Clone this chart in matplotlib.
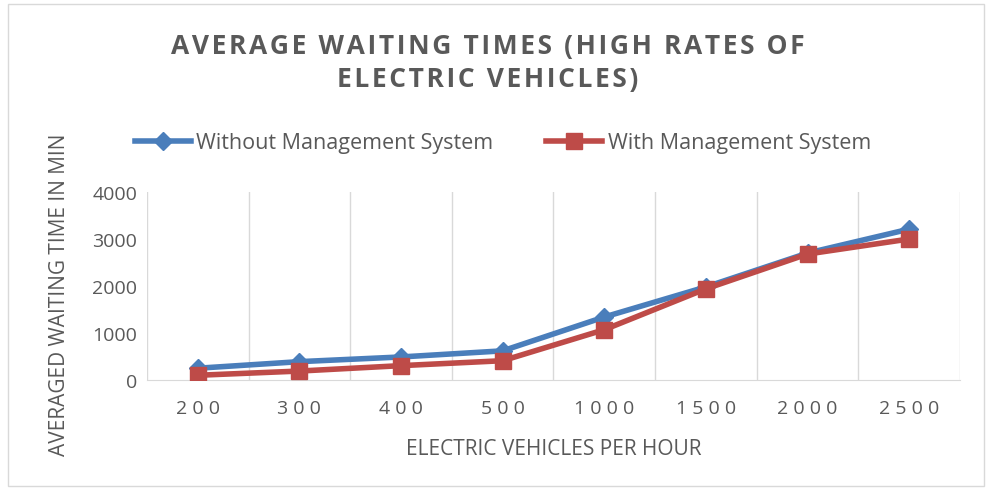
"""
Average waiting times for high rates of electric vehicles.
"""

import matplotlib.pyplot as plt
import numpy as np
from matplotlib.patches import Rectangle

plt.rcParams["font.family"] = ["Open Sans", "DejaVu Sans"]

# %% Data
ev_per_hour = ["200", "300", "400", "500", "1000", "1500", "2000", "2500"]
without_mgmt = [250, 390, 490, 620, 1340, 1980, 2700, 3210]
with_mgmt = [100, 190, 305, 410, 1070, 1940, 2680, 3000]

blue = "#4a7ebb"
red = "#be4b48"
txt = "#595959"


def spaced(s, gap="\u200a"):
    # crude letter spacing for the title
    return gap.join(s)


# %% Plot
fig = plt.figure(figsize=(9.86, 4.89), dpi=100)
ax = fig.add_axes([0.149, 0.2209, 0.8246, 0.3844])

x = np.arange(len(ev_per_hour))
ax.plot(x, without_mgmt, color=blue, lw=4, marker="D", markersize=9,
        label="Without Management System", zorder=3)
ax.plot(x, with_mgmt, color=red, lw=4, marker="s", markersize=11,
        label="With Management System", zorder=4)

ax.set_xlim(-0.5, len(ev_per_hour) - 0.5)
ax.set_ylim(0, 4000)
ax.set_yticks([0, 1000, 2000, 3000, 4000])
ax.set_xticks(x)
ax.set_xticklabels([" ".join(s) for s in ev_per_hour])
ax.set_xticks(np.arange(-0.5, len(ev_per_hour)), minor=True)
ax.grid(which="minor", axis="x", color="#d9d9d9", lw=1)
ax.tick_params(which="both", length=0, colors=txt, labelsize=14)
ax.tick_params(axis="x", pad=14)
ax.tick_params(axis="y", pad=7)
for side in ["top", "left", "right"]:
    ax.spines[side].set_visible(False)
ax.spines["bottom"].set_color("#d9d9d9")

ax.set_xlabel("ELECTRIC VEHICLES PER HOUR", fontsize=15, color=txt,
              labelpad=15)
ax.set_ylabel("AVERAGED WAITING TIME IN MIN", fontsize=15, color=txt)
ax.yaxis.set_label_coords(-0.095, 0.457)

fig.text(0.495, 0.905, spaced("AVERAGE WAITING TIMES (HIGH RATES OF"),
         ha="center", va="center", fontsize=19, fontweight="bold", color=txt)
fig.text(0.495, 0.838, spaced("ELECTRIC VEHICLES)"),
         ha="center", va="center", fontsize=19, fontweight="bold", color=txt)

ax.legend(loc="center", bbox_to_anchor=(0.438, 1.262), ncol=2, frameon=False,
          fontsize=15.5, labelcolor=txt, handlelength=2.6, columnspacing=2.45,
          handletextpad=0.25)

fig.patches.append(Rectangle((0.008, 0.005), 0.99, 0.985,
                             transform=fig.transFigure, fill=False,
                             edgecolor="#d9d9d9", lw=1))

plt.savefig("out.png", dpi=100)
